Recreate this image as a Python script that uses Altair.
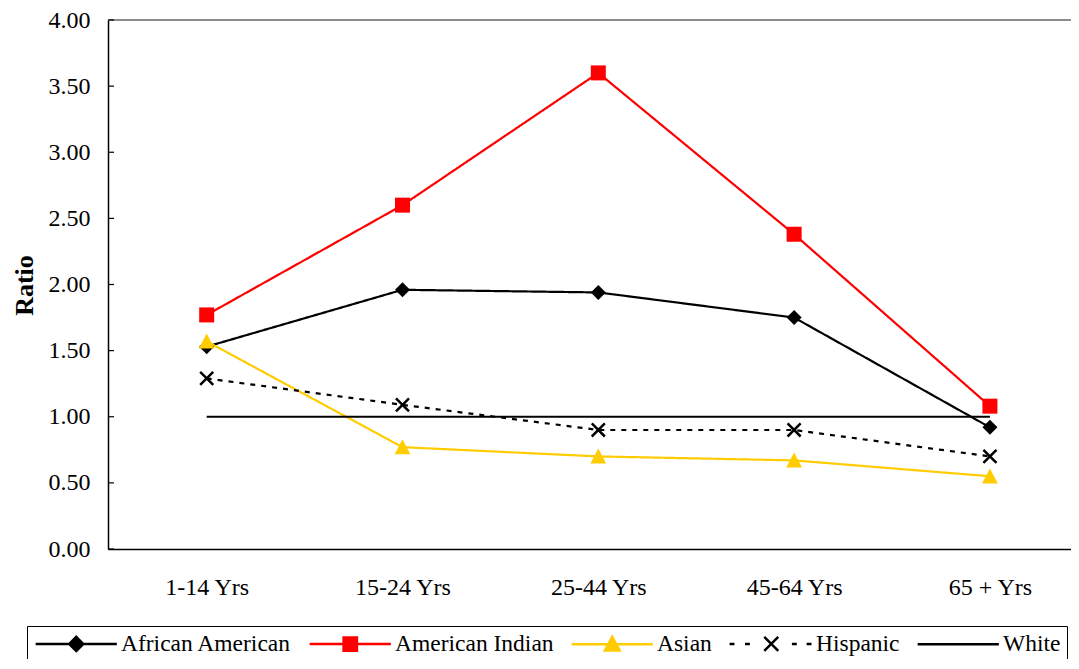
import altair as alt
import pandas as pd

categories = ["1-14 Yrs", "15-24 Yrs", "25-44 Yrs", "45-64 Yrs", "65 + Yrs"]
series = ["African American", "American Indian", "Asian", "Hispanic", "White"]
african_american = [1.53, 1.96, 1.94, 1.75, 0.92]
american_indian = [1.77, 2.60, 3.60, 2.38, 1.08]
asian = [1.57, 0.77, 0.70, 0.67, 0.55]
hispanic = [1.29, 1.09, 0.90, 0.90, 0.70]
white = [1.00, 1.00, 1.00, 1.00, 1.00]
y_ticks = [0.0, 0.5, 1.0, 1.5, 2.0, 2.5, 3.0, 3.5, 4.0]

colors = ["#000000", "#FF0000", "#FFCC00", "#000000", "#000000"]
dashes = [[1, 0], [1, 0], [1, 0], [5, 6], [1, 0]]

values = [african_american, american_indian, asian, hispanic, white]
rows = []
for s, vals in zip(series, values):
    for cat, v in zip(categories, vals):
        rows.append({"series": s, "category": cat, "value": v})
df = pd.DataFrame(rows)
ticks_df = pd.DataFrame({"value": y_ticks})
legend_df = pd.DataFrame({"series": series})

FONT = "Liberation Serif"
FS = 24
W, H = 963, 529

x_enc = alt.X(
    "category:N", sort=categories,
    scale=alt.Scale(type="point", padding=0.459, align=0.549),
    axis=alt.Axis(title=None, labelAngle=0, ticks=False, grid=False,
                  domainColor="black", domainWidth=1.5,
                  labelFont=FONT, labelFontSize=FS, labelColor="black",
                  labelPadding=26),
)
y_axis = alt.Axis(
    title="Ratio", values=y_ticks, format=".2f", ticks=False, grid=False,
    domainColor="black", domainWidth=1.5,
    labelFont=FONT, labelFontSize=FS, labelColor="black", labelPadding=18,
    titleFont=FONT, titleFontSize=26, titleFontWeight="bold", titleColor="black",
    titleAngle=270, titleX=-76, titleY=265, titleAlign="center",
    titleBaseline="alphabetic",
)
y_enc = alt.Y("value:Q", scale=alt.Scale(domain=[0, 4], nice=False), axis=y_axis)

color_scale = alt.Scale(domain=series, range=colors)

# plot frame top edge (grey) and inner y ticks
frame_top = alt.Chart(ticks_df).mark_rule(color="#8c8c8c", strokeWidth=1.5).encode(
    y=alt.value(0), x=alt.value(0), x2=alt.value(W)
)
tick_layer = alt.Chart(ticks_df).mark_rule(color="black", strokeWidth=1.2).encode(
    y=y_enc, x=alt.value(0), x2=alt.value(6)
)

lines = alt.Chart(df).mark_line(strokeWidth=2.2).encode(
    x=x_enc, y=y_enc,
    color=alt.Color("series:N", scale=color_scale, legend=None),
    strokeDash=alt.StrokeDash("series:N", scale=alt.Scale(domain=series, range=dashes), legend=None),
    detail="series:N",
)

tri_path = "M0,-1.05L1.05,0.95L-1.05,0.95Z"
x_path = "M-0.87,-0.87L0.87,0.87M-0.87,0.87L0.87,-0.87"


def marker_layer(name, shape, filled=True, stroke_width=0):
    return alt.Chart(df).transform_filter(alt.datum.series == name).mark_point(
        shape=shape, filled=filled, size=225, opacity=1, strokeWidth=stroke_width
    ).encode(
        x=x_enc, y=y_enc,
        color=alt.Color("series:N", scale=color_scale, legend=None),
    )


aa_pts = marker_layer("African American", "diamond")
ai_pts = marker_layer("American Indian", "square")
as_pts = marker_layer("Asian", tri_path)
hi_pts = marker_layer("Hispanic", x_path, filled=False, stroke_width=2.5)

# legend symbols: a line with the marker in its middle (unit = 7 px)
c = 4.5
line_seg = "M-1.3,0H10.3"
legend_paths = [
    line_seg + f"M{c},-1L{c+1},0L{c},1L{c-1},0Z",
    line_seg + f"M{c-0.95},-0.95H{c+0.95}V0.95H{c-0.95}Z",
    line_seg + f"M{c},-1.05L{c+1.05},0.9L{c-1.05},0.9Z",
    (f"M{c-5.95},0H{c-5.25}M{c-3.75},0H{c-3.05}M{c+2.95},0H{c+3.65}M{c+5.05},0H{c+5.75}"
     f"M{c-1},-1L{c+1},1M{c-1},1L{c+1},-1"),
    line_seg,
]


def make_legend():
    return alt.Legend(
        title=None, orient="none", legendX=-81, legendY=606, direction="horizontal",
        columns=5, labelFont=FONT, labelFontSize=23.5, labelColor="black",
        labelLimit=400,
        symbolSize=196, symbolStrokeWidth=2.5, symbolOpacity=1,
        strokeColor="black", fillColor="white",
        padding=6, columnPadding=12, labelOffset=64.5,
    )


legend_layer = alt.Chart(legend_df).transform_filter("false").mark_point(
    filled=True, opacity=1, strokeWidth=2.5
).encode(
    fill=alt.Fill("series:N", scale=alt.Scale(domain=series, range=colors), legend=make_legend()),
    stroke=alt.Stroke("series:N", scale=alt.Scale(domain=series, range=colors), legend=make_legend()),
    shape=alt.Shape("series:N", scale=alt.Scale(domain=series, range=legend_paths), legend=make_legend()),
)

chart = alt.layer(
    frame_top, tick_layer, lines, aa_pts, ai_pts, as_pts, hi_pts, legend_layer
).resolve_scale(
    shape="independent", fill="independent", stroke="independent"
).properties(
    width=W, height=H,
    autosize=alt.AutoSizeParams(type="none"),
    padding={"left": 100, "top": 12, "right": 0, "bottom": 110},
    background="white",
).configure_view(stroke=None)

chart.save("out.html", embed_options={"renderer": "svg", "actions": False})
